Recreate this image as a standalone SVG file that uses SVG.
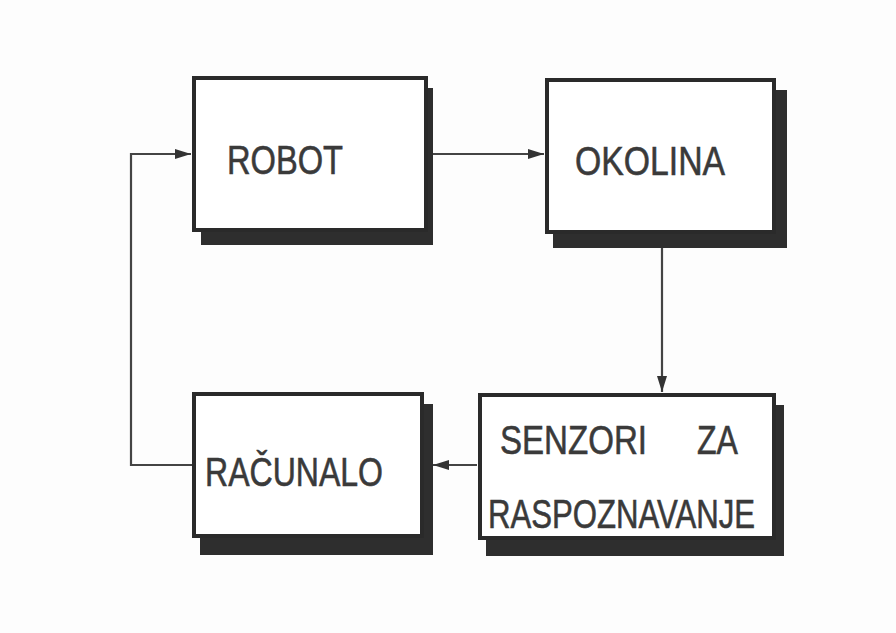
<svg xmlns="http://www.w3.org/2000/svg" width="896" height="633" viewBox="0 0 896 633">
<style>
.shadow{fill:#2e2e2e}
.box{fill:#fff;stroke:#2a2a2a;stroke-width:4}
.lbl{font-family:"Liberation Sans",Arial,sans-serif;font-size:41px;fill:#3a3a3a;stroke:#3a3a3a;stroke-width:0.6}
.conn{fill:none;stroke:#444;stroke-width:2.2}
</style>
<defs>
<marker id="ah" viewBox="0 0 16 12" refX="16" refY="6" markerWidth="16" markerHeight="12" markerUnits="userSpaceOnUse" orient="auto">
<path d="M0,1 L16,6 L0,11 Z" fill="#333"/>
</marker>
</defs>
<rect width="896" height="633" fill="#fdfdfd"/>
<g id="connectors">
<line class="conn" x1="433" y1="154" x2="544" y2="154" marker-end="url(#ah)"/>
<line class="conn" x1="662" y1="248" x2="662" y2="392" marker-end="url(#ah)"/>
<line class="conn" x1="477" y1="465" x2="433" y2="465" marker-end="url(#ah)"/>
<polyline class="conn" points="192,465 131,465 131,154 191,154" marker-end="url(#ah)"/>
</g>
<g id="robot">
<rect class="shadow" x="201" y="88" width="232" height="157"/>
<rect class="box" x="194" y="78" width="232" height="152"/>
<text class="lbl" x="227" y="174" textLength="116" lengthAdjust="spacingAndGlyphs">ROBOT</text>
</g>
<g id="okolina">
<rect class="shadow" x="553" y="90" width="234" height="158"/>
<rect class="box" x="547" y="80" width="227" height="152"/>
<text class="lbl" x="575" y="175" textLength="150" lengthAdjust="spacingAndGlyphs">OKOLINA</text>
</g>
<g id="senzori">
<rect class="shadow" x="486" y="405" width="298" height="151"/>
<rect class="box" x="480" y="395" width="294" height="143"/>
<text class="lbl" x="500" y="454" font-size="39" textLength="147" lengthAdjust="spacingAndGlyphs">SENZORI</text>
<text class="lbl" x="697" y="454" font-size="39" textLength="41" lengthAdjust="spacingAndGlyphs">ZA</text>
<text class="lbl" x="488" y="528" font-size="39" textLength="267" lengthAdjust="spacingAndGlyphs">RASPOZNAVANJE</text>
</g>
<g id="racunalo">
<rect class="shadow" x="200" y="404" width="233" height="151"/>
<rect class="box" x="194" y="394" width="228" height="142"/>
<text class="lbl" x="205" y="486" font-size="40" textLength="178" lengthAdjust="spacingAndGlyphs">RAČUNALO</text>
</g>
</svg>
